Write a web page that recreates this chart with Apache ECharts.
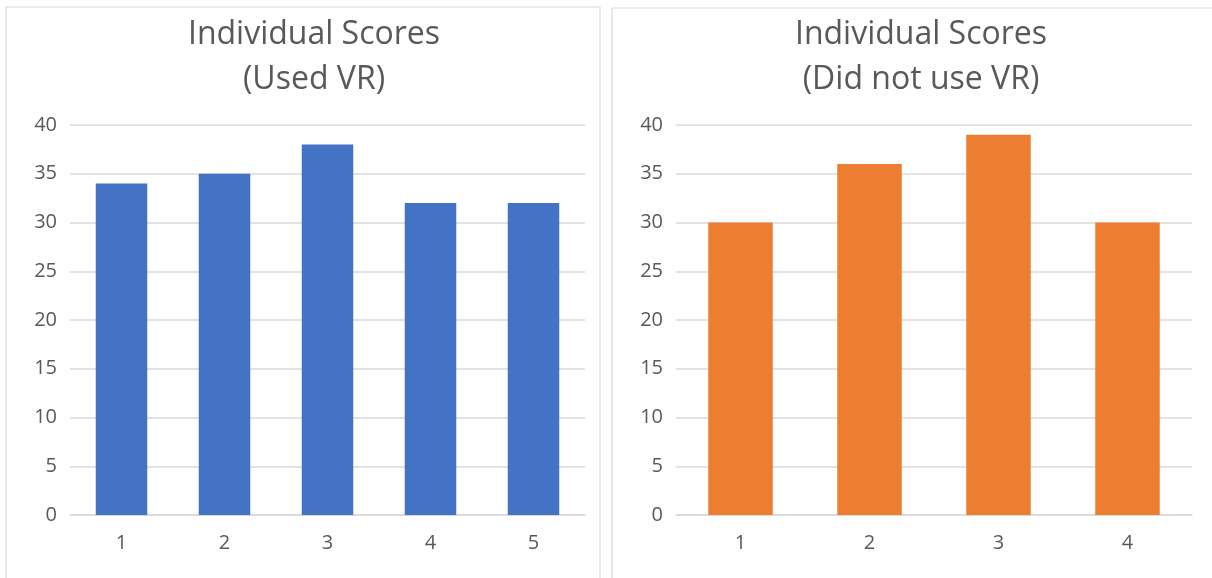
<!DOCTYPE html>
<html>
<head>
<meta charset="utf-8">
<script src="https://cdn.jsdelivr.net/npm/echarts@6/dist/echarts.min.js"></script>
<style>
html,body{margin:0;padding:0;background:#fff;}
#c{width:1212px;height:578px;}
</style>
</head>
<body>
<div id="c"></div>
<script>
const leftCategories = ['1', '2', '3', '4', '5'];
const leftValues = [34, 35, 38, 32, 32];
const rightCategories = ['1', '2', '3', '4'];
const rightValues = [30, 36, 39, 30];
const yTicks = { min: 0, max: 40, interval: 5 };
const leftTitle = 'Individual Scores\n(Used VR)';
const rightTitle = 'Individual Scores\n(Did not use VR)';

const font = '"Open Sans", "Liberation Sans", sans-serif';
const textColor = '#595959';
const gridColor = '#d9d9d9';

function xAxis(idx, cats) {
  return {
    type: 'category', gridIndex: idx, data: cats,
    axisLine: { show: true, lineStyle: { color: gridColor, width: 1.5 } },
    axisTick: { show: false },
    axisLabel: { show: true, color: textColor, fontSize: 20, fontFamily: font, margin: 18 }
  };
}
function yAxis(idx) {
  return {
    type: 'value', gridIndex: idx, min: yTicks.min, max: yTicks.max, interval: yTicks.interval,
    axisLine: { show: false }, axisTick: { show: false },
    splitLine: { lineStyle: { color: gridColor, width: 1.5 } },
    axisLabel: { show: true, color: textColor, fontSize: 20, fontFamily: font, margin: 13 }
  };
}

const chart = echarts.init(document.getElementById('c'));
chart.setOption({
  animation: false,
  backgroundColor: '#fff',
  title: [
    { text: leftTitle, left: 309, top: 7, textAlign: 'center',
      textStyle: { color: textColor, fontSize: 32, fontWeight: 'normal', fontFamily: font, lineHeight: 45 } },
    { text: rightTitle, left: 916, top: 7, textAlign: 'center',
      textStyle: { color: textColor, fontSize: 32, fontWeight: 'normal', fontFamily: font, lineHeight: 45 } }
  ],
  graphic: [
    { type: 'rect', shape: { x: 6, y: 7, width: 594, height: 580 }, style: { fill: 'none', stroke: '#d9d9d9', lineWidth: 1.2 }, silent: true, z: -1 },
    { type: 'rect', shape: { x: 612, y: 8, width: 620, height: 580 }, style: { fill: 'none', stroke: '#d9d9d9', lineWidth: 1.2 }, silent: true, z: -1 }
  ],
  grid: [
    { left: 70, top: 125, width: 515, height: 390 },
    { left: 676, top: 125, width: 516, height: 390 }
  ],
  xAxis: [xAxis(0, leftCategories), xAxis(1, rightCategories)],
  yAxis: [yAxis(0), yAxis(1)],
  series: [
    { type: 'bar', xAxisIndex: 0, yAxisIndex: 0, data: leftValues, barWidth: '50%',
      itemStyle: { color: '#4472C4' } },
    { type: 'bar', xAxisIndex: 1, yAxisIndex: 1, data: rightValues, barWidth: '50%',
      itemStyle: { color: '#ED7D31' } }
  ]
});
</script>
</body>
</html>
